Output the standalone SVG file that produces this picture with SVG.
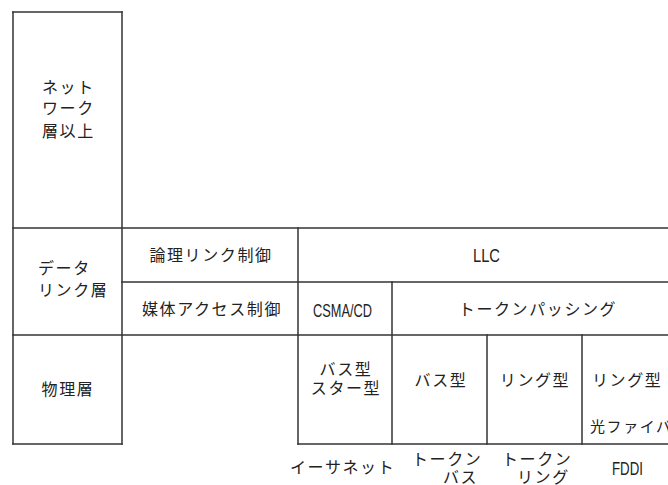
<svg xmlns="http://www.w3.org/2000/svg" width="668" height="485" viewBox="0 0 668 485">
<style>
.ln{stroke:#333;stroke-width:1.5;fill:none;stroke-linecap:square}
.t{font-family:"Noto Sans CJK JP","Noto Sans",sans-serif;font-size:16px;fill:#222;letter-spacing:1.6px}
.m{text-anchor:middle}
.s{font-size:15px}
.l{font-family:"Liberation Sans",Arial,sans-serif;font-size:19px;fill:#222}
</style>
<rect width="668" height="485" fill="#fff"/>
<g id="connectors">
<line class="ln" x1="13" y1="12" x2="122" y2="12"/>
<line class="ln" x1="13" y1="12" x2="13" y2="444"/>
<line class="ln" x1="122" y1="12" x2="122" y2="444"/>
<line class="ln" x1="13" y1="228" x2="668" y2="228"/>
<line class="ln" x1="122" y1="282" x2="668" y2="282"/>
<line class="ln" x1="13" y1="335" x2="668" y2="335"/>
<line class="ln" x1="13" y1="444" x2="122" y2="444"/>
<line class="ln" x1="298" y1="444" x2="668" y2="444"/>
<line class="ln" x1="298" y1="228" x2="298" y2="444"/>
<line class="ln" x1="392" y1="282" x2="392" y2="444"/>
<line class="ln" x1="487" y1="335" x2="487" y2="444"/>
<line class="ln" x1="582" y1="335" x2="582" y2="444"/>
</g>
<g id="network-layer">
<text class="t" x="42" y="93">ネット</text>
<text class="t" x="42" y="114">ワーク</text>
<text class="t" x="42" y="137">層以上</text>
</g>
<g id="datalink-layer">
<text class="t" x="38" y="274">データ</text>
<text class="t" x="38" y="296">リンク層</text>
</g>
<g id="physical-layer">
<text class="t m" x="68" y="395">物理層</text>
</g>
<g id="llc-label">
<text class="t m" x="211" y="261">論理リンク制御</text>
</g>
<g id="mac-label">
<text class="t m" x="212" y="315">媒体アクセス制御</text>
</g>
<g id="llc">
<text class="l" x="473" y="262" textLength="27" lengthAdjust="spacingAndGlyphs">LLC</text>
</g>
<g id="csma">
<text class="l" x="313" y="317" textLength="59" lengthAdjust="spacingAndGlyphs">CSMA/CD</text>
</g>
<g id="token-passing">
<text class="t m" x="538" y="315">トークンパッシング</text>
</g>
<g id="ethernet-phy">
<text class="t m" x="346" y="375">バス型</text>
<text class="t m" x="346" y="394">スター型</text>
</g>
<g id="tokenbus-phy">
<text class="t m" x="441" y="386">バス型</text>
</g>
<g id="tokenring-phy">
<text class="t m" x="535" y="386">リング型</text>
</g>
<g id="fddi-phy">
<text class="t" x="592" y="386">リング型</text>
<text class="t s" x="590" y="432">光ファイバ</text>
</g>
<g id="ethernet">
<text class="t" x="290" y="473">イーサネット</text>
</g>
<g id="tokenbus">
<text class="t" x="412" y="465">トークン</text>
<text class="t" x="443" y="483">バス</text>
</g>
<g id="tokenring">
<text class="t" x="502" y="465">トークン</text>
<text class="t" x="517" y="483">リング</text>
</g>
<g id="fddi">
<text class="l" x="612" y="475" font-size="17" textLength="31" lengthAdjust="spacingAndGlyphs">FDDI</text>
</g>
</svg>
